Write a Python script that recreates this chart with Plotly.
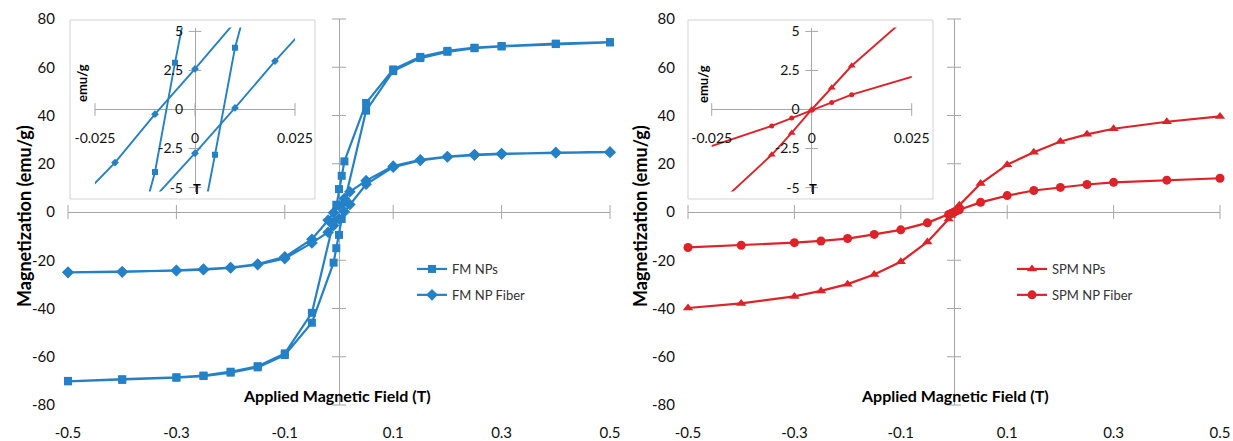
import plotly.graph_objects as go

# ---------------- data ----------------
# Ferromagnetic panel: hysteresis loop, descending then ascending branch
fm_field_desc = [0.5, 0.4, 0.3, 0.25, 0.2, 0.15, 0.1, 0.05, 0.01, 0.005, 0.0,
                 -0.005, -0.01, -0.05, -0.1, -0.15, -0.2, -0.25, -0.3, -0.4, -0.5]
fm_np_desc = [70.4, 69.8, 68.8, 68.1, 66.8, 64.3, 59.1, 45.2, 21.0, 15.0, 9.5,
              3.0, -4.0, -41.8, -58.6, -63.9, -66.2, -67.8, -68.5, -69.3, -70.0]
fm_field_asc = [-0.5, -0.4, -0.3, -0.25, -0.2, -0.15, -0.1, -0.05, -0.01, -0.005, 0.0,
                0.005, 0.01, 0.05, 0.1, 0.15, 0.2, 0.25, 0.3, 0.4, 0.5]
fm_np_asc = [-70.2, -69.6, -68.7, -68.0, -66.6, -64.4, -59.3, -45.9, -21.0, -15.0, -9.5,
             -2.9, 3.95, 42.0, 58.4, 63.8, 66.4, 67.9, 68.6, 69.6, 70.3]

fiber_field_desc = [0.5, 0.4, 0.3, 0.25, 0.2, 0.15, 0.1, 0.05, 0.02, 0.01, 0.0,
                    -0.01, -0.02, -0.05, -0.1, -0.15, -0.2, -0.25, -0.3, -0.4, -0.5]
fm_fiber_desc = [24.8, 24.6, 24.2, 23.8, 23.0, 21.6, 19.0, 13.0, 8.4, 5.6, 2.6,
                 -0.3, -3.4, -11.3, -18.6, -21.6, -23.0, -23.7, -24.2, -24.8, -25.0]
fiber_field_asc = [-0.5, -0.4, -0.3, -0.25, -0.2, -0.15, -0.1, -0.05, -0.02, -0.01, 0.0,
                   0.01, 0.02, 0.05, 0.1, 0.15, 0.2, 0.25, 0.3, 0.4, 0.5]
fm_fiber_asc = [-25.0, -24.8, -24.3, -23.9, -23.2, -21.8, -19.3, -12.8, -8.4, -5.6, -2.8,
                0.1, 3.1, 11.5, 18.6, 21.4, 22.8, 23.6, 24.0, 24.6, 24.8]

# Superparamagnetic panel
spm_field = [-0.5, -0.4, -0.3, -0.25, -0.2, -0.15, -0.1, -0.05, -0.01, -0.005, 0.0,
             0.005, 0.01, 0.05, 0.1, 0.15, 0.2, 0.25, 0.3, 0.4, 0.5]
spm_np = [-39.8, -37.9, -35.0, -32.7, -29.9, -25.9, -20.6, -12.4, -2.9, -1.5, 0.0,
          1.4, 2.8, 11.8, 19.6, 24.8, 29.2, 32.2, 34.5, 37.4, 39.6]
spm_fiber = [-14.7, -13.8, -12.7, -12.0, -11.0, -9.3, -7.4, -4.5, -1.05, -0.55, -0.05,
             0.45, 0.95, 4.0, 6.8, 8.9, 10.2, 11.4, 12.3, 13.2, 14.0]

# axis ticks
main_x_ticks = [-0.5, -0.3, -0.1, 0.1, 0.3, 0.5]
main_x_labels = ["-0.5", "-0.3", "-0.1", "0.1", "0.3", "0.5"]
main_y_ticks = [-80, -60, -40, -20, 0, 20, 40, 60, 80]
main_y_labels = ["-80", "-60", "-40", "-20", "0", "20", "40", "60", "80"]
inset_x_ticks = [-0.025, 0.0, 0.025]
inset_x_labels = ["-0.025", "0", "0.025"]
inset_y_ticks = [-5, -2.5, 0, 2.5, 5]
inset_y_labels = ["-5", "-2.5", "0", "2.5", "5"]

# ---------------- styling ----------------
W, H = 1233, 441
BLUE = "#2481C8"
RED = "#DE2228"
AXC = "#A6A6A6"
FONT = "Lato"


def dx(a, b):
    return [a / W, b / W]


def dy(top, bottom):
    return [1 - bottom / H, 1 - top / H]


fig = go.Figure()


def tick_crosses(xa, ya, xt, yt, size):
    fig.add_trace(go.Scatter(x=xt, y=[0] * len(xt), xaxis=xa, yaxis=ya, mode="markers",
                             marker=dict(symbol="line-ns", size=size, line=dict(color=AXC, width=1)),
                             showlegend=False, hoverinfo="skip", cliponaxis=False))
    fig.add_trace(go.Scatter(x=[0] * len(yt), y=yt, xaxis=xa, yaxis=ya, mode="markers",
                             marker=dict(symbol="line-ew", size=size, line=dict(color=AXC, width=1)),
                             showlegend=False, hoverinfo="skip", cliponaxis=False))


tick_crosses("x", "y", main_x_ticks, main_y_ticks, 10)
tick_crosses("x2", "y2", main_x_ticks, main_y_ticks, 10)
tick_crosses("x3", "y3", inset_x_ticks, inset_y_ticks, 9)
tick_crosses("x4", "y4", inset_x_ticks, inset_y_ticks, 9)

series = [
    # name, x, y, color, symbol, size, inset size, main axes, inset axes, legend
    ("FM NPs", fm_field_desc + fm_field_asc, fm_np_desc + fm_np_asc, BLUE, "square", 8, 6,
     ("x", "y"), ("x3", "y3"), "legend"),
    ("FM NP Fiber", fiber_field_desc + fiber_field_asc, fm_fiber_desc + fm_fiber_asc, BLUE, "diamond", 9, 6,
     ("x", "y"), ("x3", "y3"), "legend"),
    ("SPM NPs", spm_field, spm_np, RED, "triangle-up", 9, 7,
     ("x2", "y2"), ("x4", "y4"), "legend2"),
    ("SPM NP Fiber", spm_field, spm_fiber, RED, "circle", 9, 5,
     ("x2", "y2"), ("x4", "y4"), "legend2"),
]

for name, xs, ys, col, sym, ms, ims, (xa, ya), (ixa, iya), leg in series:
    fig.add_trace(go.Scatter(x=xs, y=ys, xaxis=xa, yaxis=ya, name=name, mode="lines+markers",
                             line=dict(color=col, width=2.2),
                             marker=dict(symbol=sym, size=ms, color=col),
                             legend=leg, legendgroup=name, cliponaxis=False))
    fig.add_trace(go.Scatter(x=xs, y=ys, xaxis=ixa, yaxis=iya, name=name, mode="lines+markers",
                             line=dict(color=col, width=1.9),
                             marker=dict(symbol=sym, size=ims, color=col),
                             showlegend=False, cliponaxis=True))

tickfont = dict(family=FONT, size=15, color="#111111")
inset_tickfont = dict(family=FONT, size=14, color="#111111")

main_x_common = dict(range=[-0.5, 0.5], tickmode="array", tickvals=main_x_ticks, ticktext=main_x_labels,
                     showgrid=False, zeroline=True, zerolinecolor=AXC, zerolinewidth=1,
                     showline=False, ticks="", ticklabelstandoff=17, tickfont=tickfont,
                     automargin=False, fixedrange=True)
main_y_common = dict(range=[-80, 80], tickmode="array", tickvals=main_y_ticks, ticktext=main_y_labels,
                     showgrid=False, zeroline=True, zerolinecolor=AXC, zerolinewidth=1,
                     showline=False, ticks="", ticklabelstandoff=12, tickfont=tickfont,
                     domain=dy(19, 405), automargin=False, fixedrange=True)

left_inset_x = dx(95, 295)
right_inset_x = dx(711.7, 911.7)
inset_y = dy(27.5, 191.5)


def inset_axes(xdom, ydom):
    xa = dict(domain=xdom, range=[-0.025, 0.025], anchor="free", position=(ydom[0] + ydom[1]) / 2,
              tickmode="array", tickvals=inset_x_ticks, ticktext=inset_x_labels,
              showgrid=False, zeroline=True, zerolinecolor=AXC, zerolinewidth=1,
              showline=False, ticks="", ticklabelstandoff=18, tickfont=inset_tickfont,
              automargin=False, fixedrange=True)
    ya = dict(domain=ydom, range=[-5.25, 5.25], anchor="free", position=(xdom[0] + xdom[1]) / 2,
              tickmode="array", tickvals=inset_y_ticks, ticktext=inset_y_labels,
              showgrid=False, zeroline=True, zerolinecolor=AXC, zerolinewidth=1,
              showline=False, ticks="", ticklabelstandoff=12, tickfont=inset_tickfont,
              automargin=False, fixedrange=True)
    return xa, ya


x3, y3 = inset_axes(left_inset_x, inset_y)
x4, y4 = inset_axes(right_inset_x, inset_y)

legend_common = dict(bgcolor="rgba(0,0,0,0)", font=dict(family=FONT, size=13, color="#333333"),
                     xanchor="left", yanchor="top", tracegroupgap=6, itemwidth=30)

fig.update_layout(
    width=W, height=H, margin=dict(l=0, r=0, t=0, b=0, autoexpand=False),
    paper_bgcolor="white", plot_bgcolor="white",
    font=dict(family=FONT),
    xaxis=dict(domain=dx(68, 610), anchor="y", **main_x_common),
    yaxis=dict(anchor="x", **main_y_common),
    xaxis2=dict(domain=dx(688, 1220), anchor="y2", **main_x_common),
    yaxis2=dict(anchor="x2", **main_y_common),
    xaxis3=x3, yaxis3=y3, xaxis4=x4, yaxis4=y4,
    legend=dict(x=412 / W, y=1 - 254 / H, **legend_common),
    legend2=dict(x=1012 / W, y=1 - 254 / H, **legend_common),
    shapes=[
        dict(type="rect", xref="paper", yref="paper", x0=70 / W, x1=315 / W, y0=1 - 199 / H, y1=1 - 20 / H,
             fillcolor="white", line=dict(color="#D3D3D3", width=1), layer="below"),
        dict(type="rect", xref="paper", yref="paper", x0=688 / W, x1=933 / W, y0=1 - 199 / H, y1=1 - 20 / H,
             fillcolor="white", line=dict(color="#D3D3D3", width=1), layer="below"),
    ],
)

title_font = dict(family=FONT, size=18, color="#000000")
xtitle_font = dict(family=FONT, size=16, color="#000000")
small_bold = dict(family=FONT, size=13, color="#000000")

annotations = [
    dict(text="<b>Magnetization (emu/g)</b>", x=24 / W, y=1 - 216 / H, textangle=-90, font=title_font),
    dict(text="<b>Magnetization (emu/g)</b>", x=640 / W, y=1 - 216 / H, textangle=-90, font=title_font),
    dict(text="<b>Applied Magnetic Field (T)</b>", x=337 / W, y=1 - 395 / H, font=xtitle_font),
    dict(text="<b>Applied Magnetic Field (T)</b>", x=955 / W, y=1 - 395 / H, font=xtitle_font),
    dict(text="<b>emu/g</b>", x=82 / W, y=1 - 83 / H, textangle=-90, font=small_bold),
    dict(text="<b>emu/g</b>", x=703 / W, y=1 - 84 / H, textangle=-90, font=small_bold),
    dict(text="<b>T</b>", x=197 / W, y=1 - 189 / H, font=small_bold),
    dict(text="<b>T</b>", x=813 / W, y=1 - 189 / H, font=small_bold),
]
for a in annotations:
    a.update(xref="paper", yref="paper", showarrow=False, xanchor="center", yanchor="middle")
fig.update_layout(annotations=annotations)

# remove the browser's default 8px body margin so the figure fills the window exactly
fig.write_html("out.html", config={"displayModeBar": False},
               post_script="document.body.style.margin='0';document.body.style.overflow='hidden';")
